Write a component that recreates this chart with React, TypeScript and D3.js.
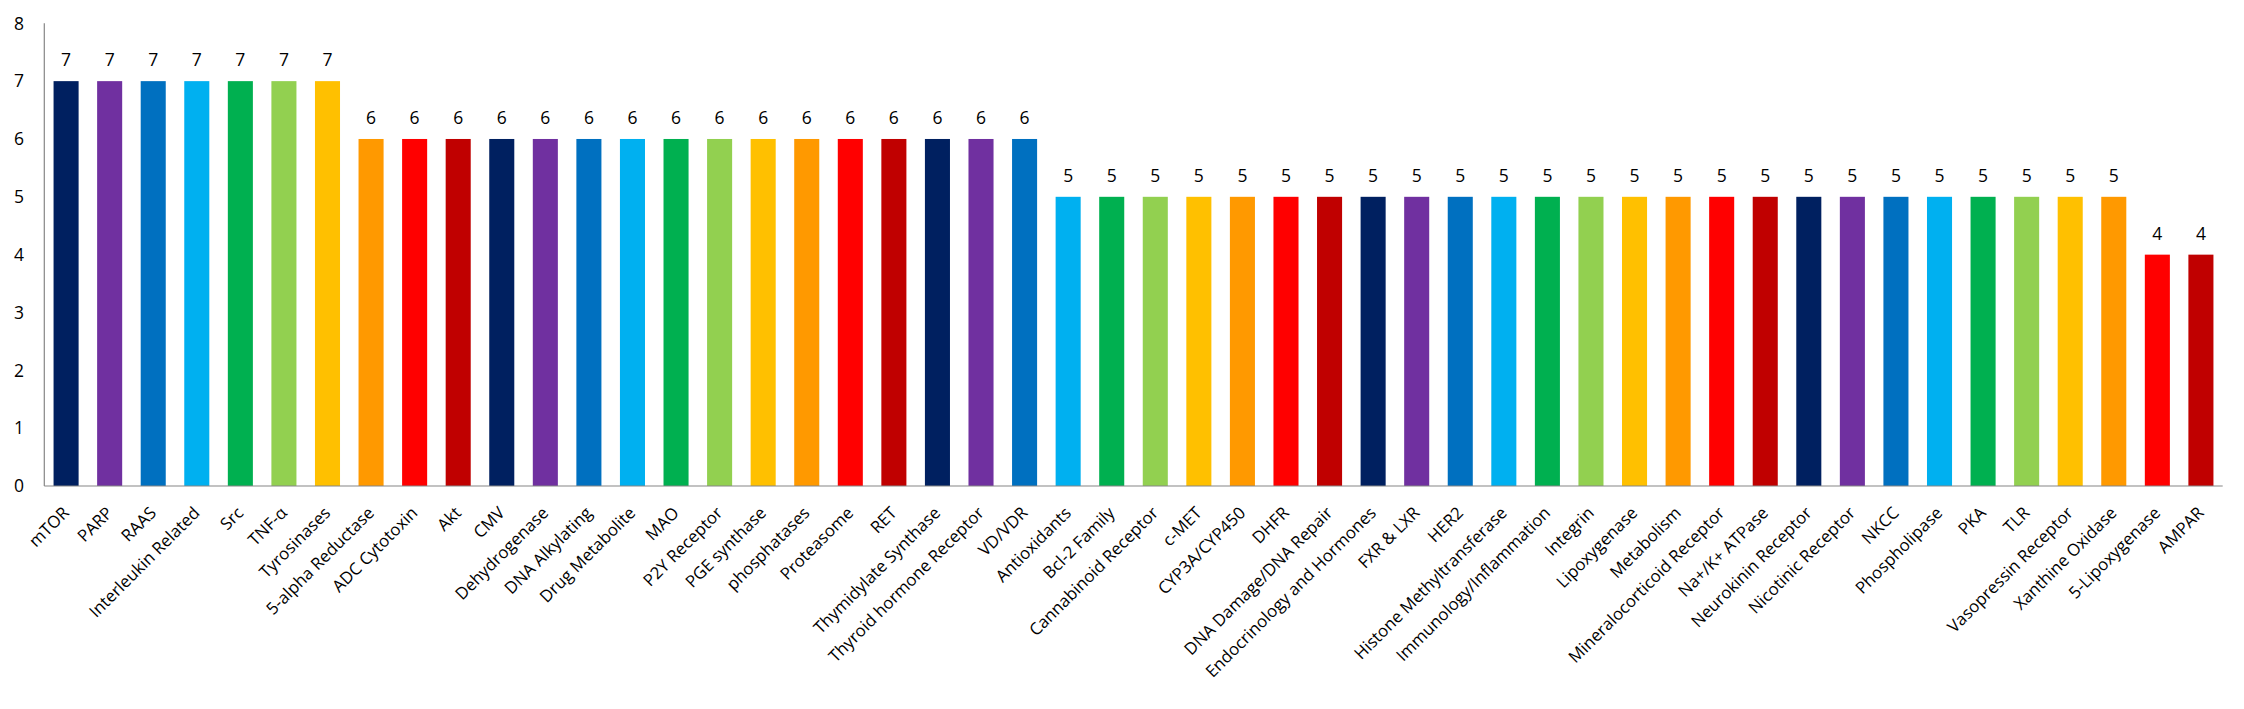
import React from "react";
import * as d3 from "d3";

const categories: string[] = [
  "mTOR", "PARP", "RAAS", "Interleukin Related", "Src", "TNF-α", "Tyrosinases",
  "5-alpha Reductase", "ADC Cytotoxin", "Akt", "CMV", "Dehydrogenase", "DNA Alkylating",
  "Drug Metabolite", "MAO", "P2Y Receptor", "PGE synthase", "phosphatases", "Proteasome",
  "RET", "Thymidylate Synthase", "Thyroid hormone Receptor", "VD/VDR", "Antioxidants",
  "Bcl-2 Family", "Cannabinoid Receptor", "c-MET", "CYP3A/CYP450", "DHFR",
  "DNA Damage/DNA Repair", "Endocrinology and Hormones", "FXR & LXR", "HER2",
  "Histone Methyltransferase", "Immunology/Inflammation", "Integrin", "Lipoxygenase",
  "Metabolism", "Mineralocorticoid Receptor", "Na+/K+ ATPase", "Neurokinin Receptor",
  "Nicotinic Receptor", "NKCC", "Phospholipase", "PKA", "TLR", "Vasopressin Receptor",
  "Xanthine Oxidase", "5-Lipoxygenase", "AMPAR",
];

const values: number[] = [
  // mTOR .. Tyrosinases
  7, 7, 7, 7, 7, 7, 7,
  // 5-alpha Reductase .. VD/VDR
  6, 6, 6, 6, 6, 6, 6, 6,
  6, 6, 6, 6, 6, 6, 6, 6,
  // Antioxidants .. Xanthine Oxidase
  5, 5, 5, 5, 5,
  5, 5, 5, 5, 5,
  5, 5, 5, 5, 5,
  5, 5, 5, 5, 5,
  5, 5, 5, 5, 5,
  // 5-Lipoxygenase, AMPAR
  4, 4,
];

const palette: string[] = [
  "#002060", "#7030A0", "#0070C0", "#00B0F0", "#00B050",
  "#92D050", "#FFC000", "#FF9900", "#FF0000", "#C00000",
];

const yTicks: number[] = [0, 1, 2, 3, 4, 5, 6, 7, 8];

const W = 2244;
const H = 709;
const FONT = "'Open Sans', Lato, sans-serif";
const FS_NUM = 17.5;
const FS_CAT = 16.8;

export default function App() {
  const x = d3
    .scaleBand<string>()
    .domain(categories)
    .range([44.3, 2222.7])
    .paddingInner(0.425)
    .paddingOuter(0.2125);
  const y = d3.scaleLinear().domain([0, 8]).range([486, 23.3]);
  const axisColor = "#868686";

  return (
    <svg
      width={W}
      height={H}
      style={{ position: "absolute", left: 0, top: 0, background: "#fff" }}
      fontFamily={FONT}
    >
      <rect x={0} y={0} width={W} height={H} fill="#ffffff" />
      {categories.map((c, i) => (
        <rect
          key={"b" + i}
          x={x(c)}
          y={y(values[i])}
          width={x.bandwidth()}
          height={y(0) - y(values[i])}
          fill={palette[i % palette.length]}
        />
      ))}
      <line x1={44.3} x2={44.3} y1={y(8)} y2={y(0)} stroke={axisColor} strokeWidth={1.2} />
      <line x1={44.3} x2={2222.7} y1={y(0)} y2={y(0)} stroke={axisColor} strokeWidth={1.2} />
      {yTicks.map((t) => (
        <text
          key={"t" + t}
          x={24}
          y={y(t)}
          dy="0.36em"
          textAnchor="end"
          fontSize={FS_NUM}
          fill="#000"
        >
          {t}
        </text>
      ))}
      {categories.map((c, i) => {
        const cx = (x(c) as number) + x.bandwidth() / 2;
        return (
          <text
            key={"v" + i}
            x={cx}
            y={y(values[i]) - 15}
            textAnchor="middle"
            fontSize={FS_NUM}
            fill="#000"
          >
            {values[i]}
          </text>
        );
      })}
      {categories.map((c, i) => {
        const cx = (x(c) as number) + x.bandwidth() / 2;
        return (
          <text
            key={"l" + i}
            transform={`translate(${cx + 4},${514}) rotate(-45)`}
            textAnchor="end"
            fontSize={FS_CAT}
            fill="#000"
          >
            {c}
          </text>
        );
      })}
    </svg>
  );
}
